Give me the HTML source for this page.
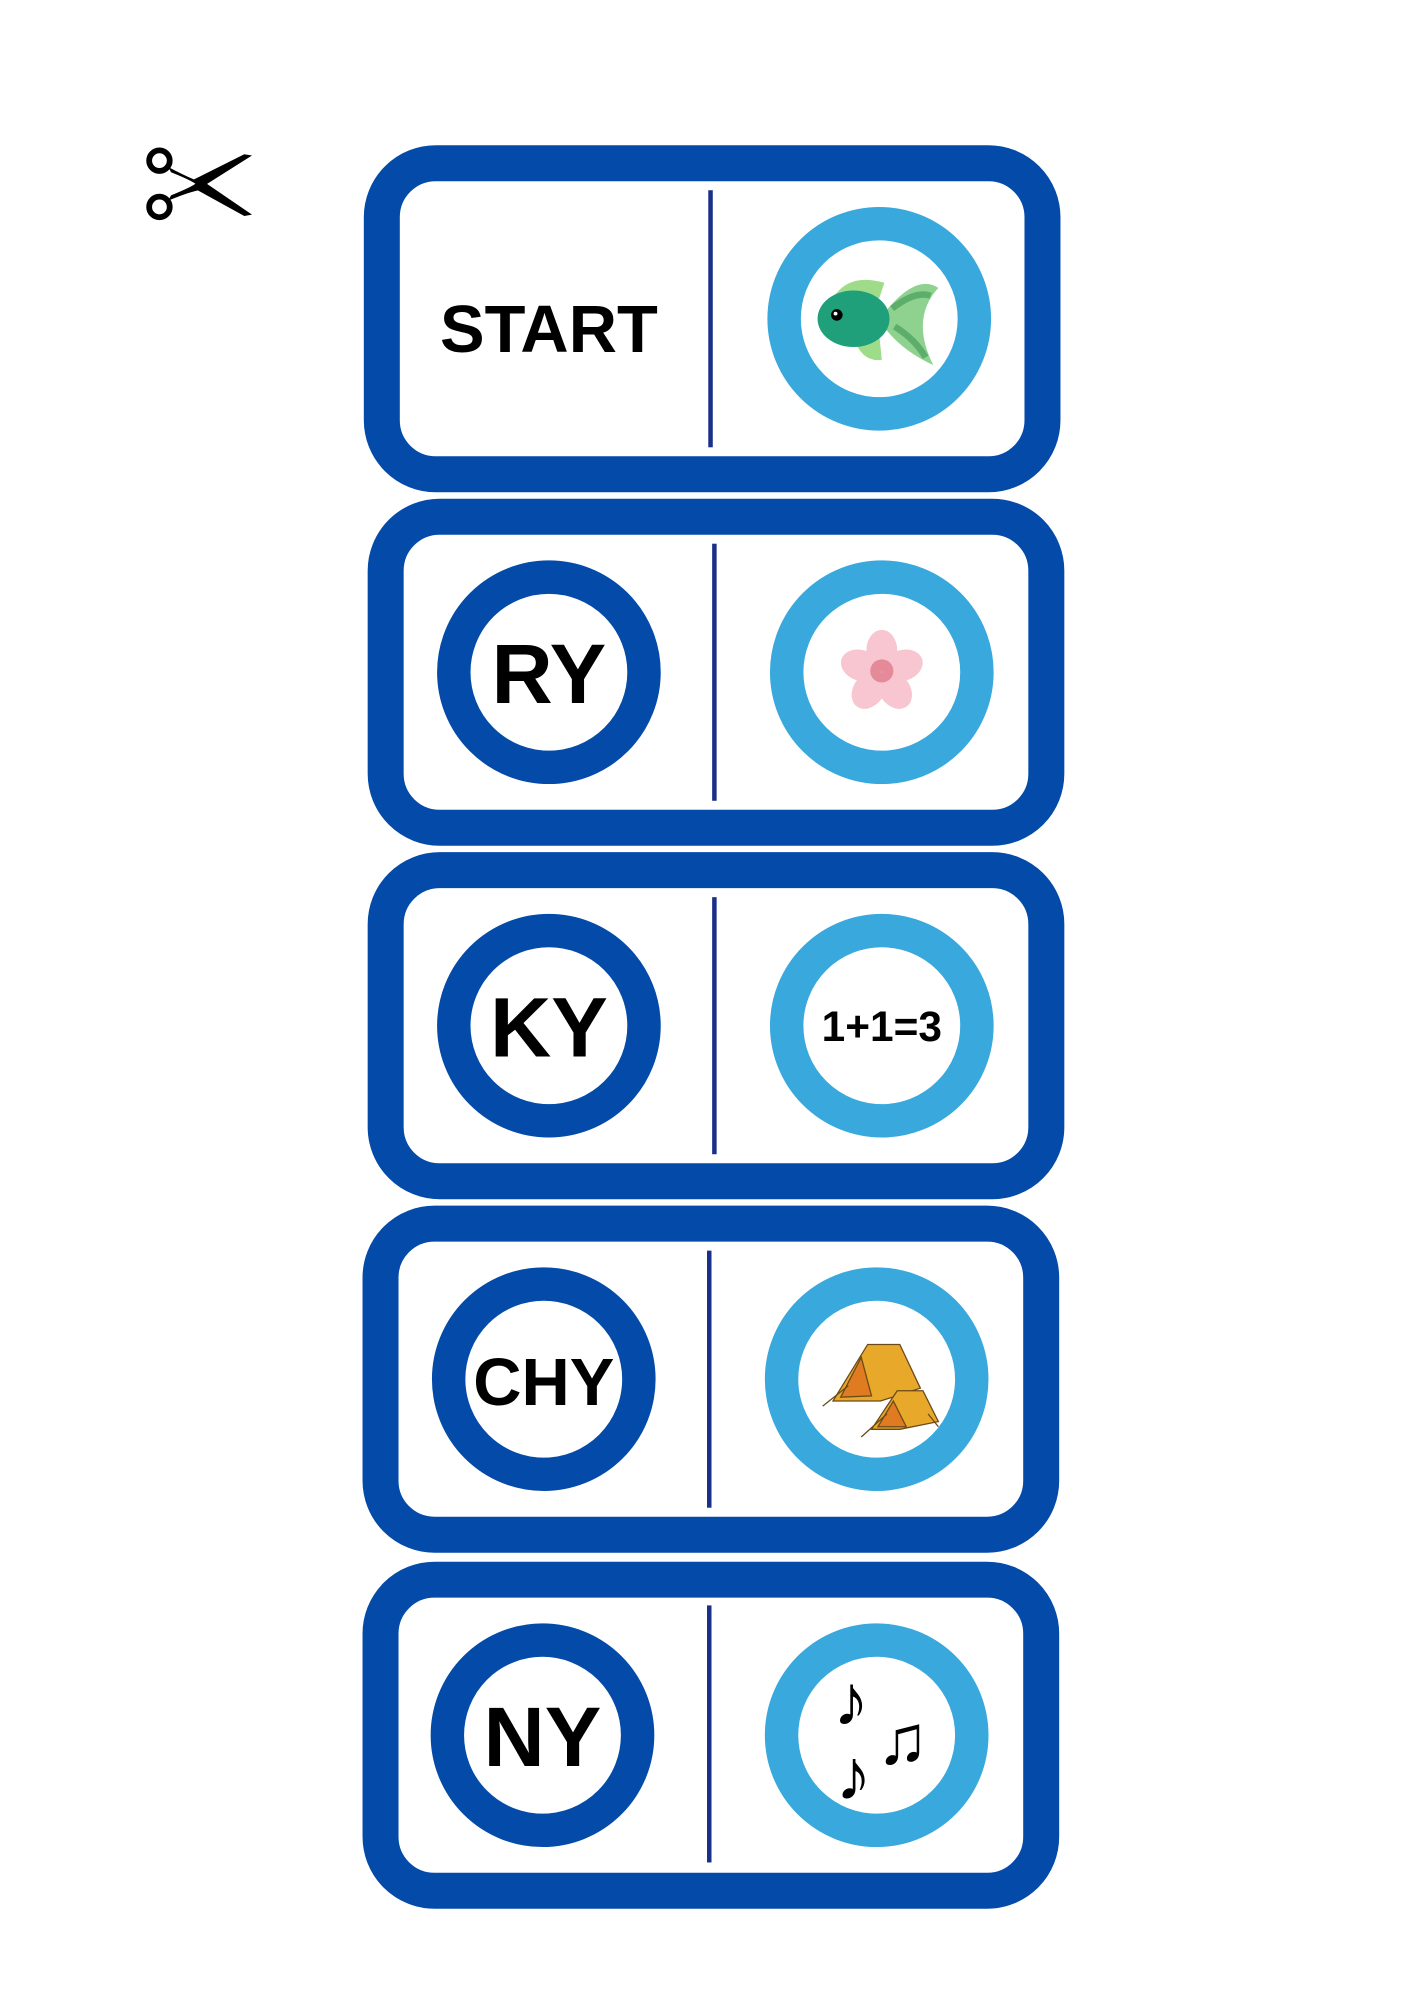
<!DOCTYPE html>
<html><head><meta charset="utf-8"><style>
html,body{margin:0;padding:0;background:#fff;}
svg{display:block;}
text{font-family:"Liberation Sans","DejaVu Sans",sans-serif;font-weight:bold;fill:#000;}
</style></head><body>
<svg width="1414" height="2000" viewBox="0 0 1100 1556" xmlns="http://www.w3.org/2000/svg">
<rect width="1100" height="1556" fill="#fff"/>
<!-- scissors -->
<g fill="none" stroke="#000" stroke-width="4.5">
<circle cx="124" cy="125" r="8"/>
<circle cx="124" cy="161" r="8"/>
</g>
<path d="M130 131 L158 145 L196 121 L190 120 L150 140 Z" fill="#000"/>
<path d="M130 155 L158 141 L196 167 L190 168 L150 146 Z" fill="#000"/>
<path d="M131 130 Q150 140 160 143 L160 147 Q150 148 131 156 L133 152 Q148 146 152 143 Q148 140 133 134Z" fill="#000"/>

<!-- cards -->
<g fill="#fff" stroke="#034aa9" stroke-width="28">
<rect x="297" y="127" width="514" height="242" rx="42"/>
<rect x="300" y="402" width="514" height="242" rx="42"/>
<rect x="300" y="677" width="514" height="242" rx="42"/>
<rect x="296" y="952" width="514" height="242" rx="42"/>
<rect x="296" y="1229" width="514" height="242" rx="42"/>
</g>
<!-- dividers -->
<g fill="#1a2f8a">
<rect x="551" y="148" width="3.5" height="200"/>
<rect x="554" y="423" width="3.5" height="200"/>
<rect x="554" y="698" width="3.5" height="200"/>
<rect x="550" y="973" width="3.5" height="200"/>
<rect x="550" y="1249" width="3.5" height="200"/>
</g>
<!-- circles -->
<g fill="#fff" stroke-width="26">
<circle cx="684" cy="248" r="74" stroke="#38a8dd"/>
<circle cx="427" cy="523" r="74" stroke="#034aa9"/>
<circle cx="686" cy="523" r="74" stroke="#38a8dd"/>
<circle cx="427" cy="798" r="74" stroke="#034aa9"/>
<circle cx="686" cy="798" r="74" stroke="#38a8dd"/>
<circle cx="423" cy="1073" r="74" stroke="#034aa9"/>
<circle cx="682" cy="1073" r="74" stroke="#38a8dd"/>
<circle cx="422" cy="1350" r="74" stroke="#034aa9"/>
<circle cx="682" cy="1350" r="74" stroke="#38a8dd"/>
</g>
<!-- text -->
<text x="427" y="274" font-size="52" text-anchor="middle">START</text>
<text x="427" y="547" font-size="66" text-anchor="middle">RY</text>
<text x="427" y="822" font-size="66" text-anchor="middle">KY</text>
<text x="423" y="1093" font-size="52" text-anchor="middle">CHY</text>
<text x="422" y="1374" font-size="66" text-anchor="middle">NY</text>
<text x="686" y="810" font-size="33" text-anchor="middle">1+1=3</text>

<!-- fish -->
<g>
<path d="M686 246 Q712 212 730 224 Q708 248 726 284 Q700 272 686 252Z" fill="#8fd18f"/>
<path d="M694 240 Q712 226 724 230 M696 254 Q712 264 720 278" stroke="#5cae6a" stroke-width="5" fill="none"/>
<path d="M648 232 Q660 212 688 220 L684 232Z" fill="#9fdc8a"/>
<path d="M664 262 Q670 282 686 280 L684 260Z" fill="#9fdc8a"/>
<ellipse cx="664" cy="248" rx="28" ry="22" fill="#1fa07a"/>
<circle cx="651" cy="245" r="4.5" fill="#000"/><circle cx="650" cy="244" r="1.5" fill="#fff"/>
</g>
<!-- flower -->
<g fill="#f7c6d0">
<ellipse cx="686" cy="506" rx="12" ry="16"/>
<ellipse cx="686" cy="506" rx="12" ry="16" transform="rotate(72 686 523)"/>
<ellipse cx="686" cy="506" rx="12" ry="16" transform="rotate(144 686 523)"/>
<ellipse cx="686" cy="506" rx="12" ry="16" transform="rotate(216 686 523)"/>
<ellipse cx="686" cy="506" rx="12" ry="16" transform="rotate(288 686 523)"/>
</g>
<circle cx="686" cy="522" r="9" fill="#e07a8a" opacity="0.8"/>
<!-- tents -->
<g stroke="#6b4a1a" stroke-width="1">
<path d="M648 1090 L675 1046 L700 1046 L716 1080 L685 1090Z" fill="#e8a82a"/>
<path d="M654 1087 L670 1056 L678 1086Z" fill="#e07b22"/>
<path d="M678 1112 L698 1082 L718 1082 L730 1106 L700 1112Z" fill="#e8a82a"/>
<path d="M683 1110 L695 1090 L705 1110Z" fill="#e07b22"/>
<path d="M640 1094 L660 1078 M670 1118 L690 1100 M730 1110 L722 1100" fill="none"/>
</g>
<!-- notes -->
<g font-weight="normal" style="font-family:'DejaVu Sans',sans-serif" fill="#000">
<text x="648" y="1342" font-size="56">♪</text>
<text x="682" y="1372" font-size="54">♫</text>
<text x="650" y="1400" font-size="56">♪</text>
</g>
</svg>
</body></html>
